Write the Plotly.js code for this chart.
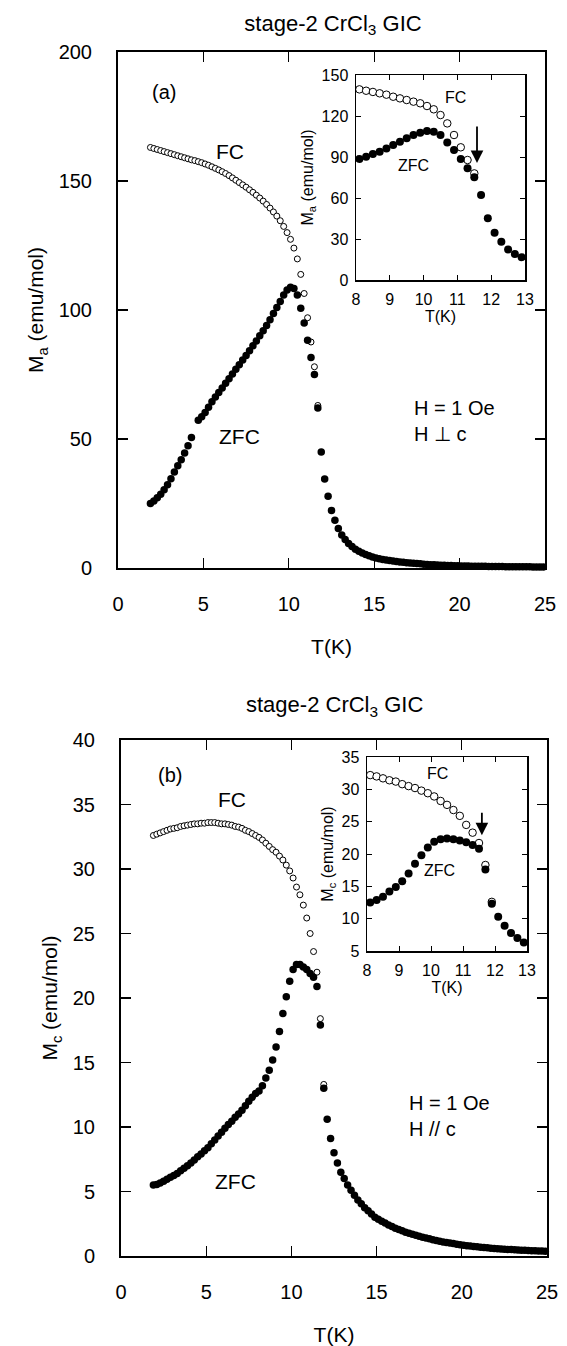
<!DOCTYPE html>
<html>
<head>
<meta charset="utf-8">
<script src="https://cdn.plot.ly/plotly-3.0.1.min.js"></script>
<style>html,body{margin:0;padding:0;background:#fff;}#chart{width:567px;height:1346px;}</style>
</head>
<body>
<div id="chart"></div>
<script>
// ---------- DATA ----------
// Temperature grid of the measurement (K)
const T_main = [1.9,2.1,2.3,2.5,2.7,2.9,3.1,3.3,3.5,3.7,3.9,4.1,4.3,4.5,4.7,4.9,5.1,5.3,5.5,5.7,5.9,
  6.1,6.3,6.5,6.7,6.9,7.1,7.3,7.5,7.7,7.9,8.1,8.3,8.5,8.7,8.9,9.1,9.3,9.5,9.7,9.9,
  10.1,10.3,10.5,10.7,10.9,11.1,11.3,11.5,11.7,11.9,12.1,12.3,12.5,12.7,12.9,
  13.1,13.3,13.5,13.7,13.9,14.1,14.3,14.5,14.7,14.9,15.1,15.3,15.5,15.7,15.9,
  16.1,16.3,16.5,16.7,16.9,17.1,17.3,17.5,17.7,17.9,18.1,18.3,18.5,18.7,18.9,
  19.1,19.3,19.5,19.7,19.9,20.1,20.3,20.5,20.7,20.9,21.1,21.3,21.5,21.7,21.9,
  22.1,22.3,22.5,22.7,22.9,23.1,23.3,23.5,23.7,23.9,24.1,24.3,24.5,24.7,24.9];

// (a) H perp c : ZFC (filled) and FC (open), emu/mol
const ZFC_a = [25.0,26.0,27.2,28.6,30.3,32.3,34.6,37.2,39.6,42.0,44.6,47.4,50.6,null,57.3,58.6,60.3,62.3,64.4,66.3,68.0,
  69.8,71.6,73.4,75.2,77.0,78.8,80.6,82.4,84.2,86.1,88.0,90.0,92.0,94.0,96.2,98.6,101.0,103.3,105.8,107.8,
  108.8,108.3,105.8,100.7,95.0,88.3,81.6,75.0,62.0,45.0,34.5,27.8,22.3,18.5,15.3,
  12.8,11.0,9.5,8.3,7.3,6.5,5.8,5.2,4.7,4.3,3.9,3.6,3.3,3.1,2.9,
  2.7,2.5,2.3,2.2,2.0,1.9,1.8,1.7,1.6,1.5,1.4,1.3,1.25,1.2,1.1,
  1.05,1.0,0.95,0.9,0.85,0.8,0.78,0.75,0.72,0.7,0.68,0.66,0.64,0.62,0.6,
  0.58,0.56,0.55,0.53,0.52,0.5,0.49,0.48,0.46,0.45,0.44,0.43,0.42,0.41,0.4];
const FC_a = [163.0,162.6,162.2,161.8,161.4,161.0,160.6,160.2,159.8,159.4,159.0,158.6,158.2,157.9,157.5,157.1,
  156.6,156.1,155.5,154.9,154.3,153.6,152.9,152.1,151.2,150.3,149.4,148.5,147.6,146.6,145.6,
  144.5,143.4,142.2,140.9,139.5,138.0,136.4,134.6,132.4,130.0,127.4,124.0,119.8,113.8,106.4,
  97.0,87.6,78.0,63.0];

// (b) H // c
const ZFC_b = [5.5,5.55,5.65,5.8,5.95,6.1,6.25,6.4,6.6,6.8,7.0,7.2,7.45,7.7,7.9,8.15,8.4,8.7,9.0,9.3,9.6,
  9.9,10.2,10.45,10.75,11.0,11.3,11.65,12.0,12.3,12.6,12.8,13.2,13.8,14.4,15.2,16.2,17.4,18.8,20.1,21.3,
  22.2,22.6,22.6,22.4,22.2,21.9,21.6,20.9,17.9,13.0,10.6,9.1,8.0,7.2,6.5,
  6.0,5.5,5.1,4.7,4.35,4.05,3.75,3.5,3.25,3.0,2.85,2.7,2.55,2.4,2.28,
  2.16,2.05,1.95,1.85,1.76,1.68,1.6,1.53,1.46,1.4,1.33,1.26,1.2,1.14,1.09,
  1.04,1.0,0.96,0.92,0.88,0.84,0.8,0.77,0.74,0.71,0.68,0.66,0.63,0.61,0.59,
  0.57,0.55,0.53,0.51,0.5,0.48,0.47,0.45,0.44,0.43,0.41,0.4,0.39,0.38,0.37];
const FC_b = [32.6,32.7,32.8,32.9,33.0,33.1,33.15,33.2,33.3,33.35,33.4,33.45,33.5,33.5,33.55,33.55,
  33.6,33.6,33.6,33.55,33.5,33.5,33.45,33.4,33.3,33.25,33.15,33.0,32.9,32.75,32.6,
  32.45,32.25,32.0,31.75,31.5,31.3,31.0,30.7,30.3,29.85,29.3,28.6,28.0,27.2,26.2,
  25.0,23.6,22.0,18.4,13.3];

// Insets (8-13 K)
const T_inset = [8.1,8.3,8.5,8.7,8.9,9.1,9.3,9.5,9.7,9.9,10.1,10.3,10.5,10.7,10.9,11.1,11.3,11.5,11.7,11.9,12.1,12.3,12.5,12.7,12.9];
const ZFC_ina = [88.5,90.2,92.2,93.9,96.3,98.8,101.2,103.7,106.1,107.8,109.0,108.5,106.1,100.7,95.1,88.5,81.7,75.1,62.2,45.1,34.6,28.0,22.4,19.0,16.6];
const FC_ina  = [139.5,138.5,137.6,136.6,135.6,134.1,132.9,131.7,130.5,129.3,127.3,124.9,120.7,114.6,106.1,97.1,87.8,78.0];
const ZFC_inb = [12.5,12.9,13.4,14.2,14.9,15.8,17.0,18.5,19.8,21.0,21.9,22.3,22.4,22.3,22.1,21.8,21.4,20.8,17.6,12.3,10.3,8.9,7.8,7.0,6.3];
const FC_inb  = [32.2,32.0,31.7,31.4,31.2,30.8,30.5,30.2,29.8,29.4,28.9,28.2,27.6,26.8,25.9,24.5,23.3,21.7,18.3,12.6];

// Tick values
const xTicksMain = [0,5,10,15,20,25];
const yTicksA = [0,50,100,150,200];
const yTicksB = [0,5,10,15,20,25,30,35,40];
const xTicksInset = [8,9,10,11,12,13];
const yTicksInA = [0,30,60,90,120,150];
const yTicksInB = [5,10,15,20,25,30,35];

// ---------- STYLE ----------
const FONT = 'Liberation Sans, Arial, Helvetica, sans-serif';
const openM = s => ({symbol:'circle', size:s, color:'white', line:{color:'black', width:1}});
const fillM = s => ({symbol:'circle', size:s, color:'black', line:{width:0}});

const traces = [
  {x:T_main.slice(0, FC_a.length), y:FC_a, xaxis:'x', yaxis:'y', mode:'markers', marker:openM(6), cliponaxis:false, name:'FC'},
  {x:T_main, y:ZFC_a, xaxis:'x', yaxis:'y', mode:'markers', marker:fillM(7.5), cliponaxis:false, name:'ZFC'},
  {x:T_inset.slice(0, FC_ina.length), y:FC_ina, xaxis:'x2', yaxis:'y2', mode:'markers', marker:openM(7.5), name:'FC'},
  {x:T_inset, y:ZFC_ina, xaxis:'x2', yaxis:'y2', mode:'markers', marker:fillM(8), name:'ZFC'},
  {x:T_main.slice(0, FC_b.length), y:FC_b, xaxis:'x3', yaxis:'y3', mode:'markers', marker:openM(6), cliponaxis:false, name:'FC'},
  {x:T_main, y:ZFC_b, xaxis:'x3', yaxis:'y3', mode:'markers', marker:fillM(7.5), cliponaxis:false, name:'ZFC'},
  {x:T_inset.slice(0, FC_inb.length), y:FC_inb, xaxis:'x4', yaxis:'y4', mode:'markers', marker:openM(7.5), name:'FC'},
  {x:T_inset, y:ZFC_inb, xaxis:'x4', yaxis:'y4', mode:'markers', marker:fillM(8), name:'ZFC'}
];

const W = 567, H = 1346;
const px = v => v / W, py = v => 1 - v / H;

function mainAxis(extra) {
  return Object.assign({
    showline:true, linewidth:2, linecolor:'black', mirror:'ticks',
    ticks:'inside', ticklen:10, tickwidth:1.3, tickcolor:'black',
    showgrid:false, zeroline:false, tickfont:{family:FONT, size:20, color:'black'},
    tickmode:'array', fixedrange:true
  }, extra);
}
function insetAxis(extra) {
  return Object.assign({
    showline:true, linewidth:1.5, linecolor:'black', mirror:'ticks',
    ticks:'inside', ticklen:5, tickwidth:1, tickcolor:'black',
    showgrid:false, zeroline:false, tickfont:{family:FONT, size:16, color:'black'},
    tickmode:'array', fixedrange:true
  }, extra);
}

const layout = {
  width:W, height:H, margin:{l:0, r:0, t:0, b:0},
  paper_bgcolor:'white', plot_bgcolor:'white', showlegend:false,
  font:{family:FONT, color:'black'},
  title:{text:'stage-2 CrCl<sub>3</sub> GIC', x:px(333), xanchor:'center', y:py(23), yanchor:'middle', font:{family:FONT, size:22, color:'black'}},
  xaxis: mainAxis({domain:[px(118), px(545)], range:[0,25], tickvals:xTicksMain, anchor:'y', ticklabelstandoff:17,
    title:{text:'T(K)', font:{family:FONT, size:21}, standoff:25}}),
  yaxis: mainAxis({domain:[py(568), py(52)], range:[0,200], tickvals:yTicksA, anchor:'x', ticklabelstandoff:20,
    title:{text:'M<sub>a</sub> (emu/mol)', font:{family:FONT, size:21}, standoff:9}}),
  xaxis2: insetAxis({domain:[px(356), px(525)], range:[8,13], tickvals:xTicksInset, anchor:'y2', ticklabelstandoff:4,
    title:{text:'T(K)', font:{family:FONT, size:16}, standoff:3}}),
  yaxis2: insetAxis({domain:[py(280), py(75)], range:[0,150], tickvals:yTicksInA, anchor:'x2', ticklabelstandoff:3,
    title:{text:'M<sub>a</sub> (emu/mol)', font:{family:FONT, size:16}, standoff:4}}),
  xaxis3: mainAxis({domain:[px(121), px(547)], range:[0,25], tickvals:xTicksMain, anchor:'y3', ticklabelstandoff:17,
    title:{text:'T(K)', font:{family:FONT, size:21}, standoff:25}}),
  yaxis3: mainAxis({domain:[py(1256), py(740)], range:[0,40], tickvals:yTicksB, anchor:'x3', ticklabelstandoff:20,
    title:{text:'M<sub>c</sub> (emu/mol)', font:{family:FONT, size:21}, standoff:9}}),
  xaxis4: insetAxis({domain:[px(367), px(527)], range:[8,13], tickvals:xTicksInset, anchor:'y4', ticklabelstandoff:4,
    title:{text:'T(K)', font:{family:FONT, size:16}, standoff:3}}),
  yaxis4: insetAxis({domain:[py(951), py(757)], range:[5,35], tickvals:yTicksInB, anchor:'x4', ticklabelstandoff:3,
    title:{text:'M<sub>c</sub> (emu/mol)', font:{family:FONT, size:16}, standoff:4}}),
  annotations: [
    {xref:'paper', yref:'paper', x:px(334), y:py(706), text:'stage-2 CrCl<sub>3</sub> GIC', showarrow:false, xanchor:'center', yanchor:'middle', font:{family:FONT, size:22}},
    // panel (a)
    {xref:'x', yref:'y', x:2.7, y:184.5, text:'(a)', showarrow:false, font:{family:FONT, size:20}},
    {xref:'x', yref:'y', x:6.56, y:161.5, text:'FC', showarrow:false, font:{family:FONT, size:21}},
    {xref:'x', yref:'y', x:7.14, y:50.9, text:'ZFC', showarrow:false, font:{family:FONT, size:21}},
    {xref:'x', yref:'y', x:17.2, y:56.9, text:'H = 1 Oe<br>H \u22A5 c', showarrow:false, xanchor:'left', yanchor:'middle', align:'left', font:{family:FONT, size:20}},
    {xref:'x2', yref:'y2', x:10.93, y:133.2, text:'FC', showarrow:false, font:{family:FONT, size:16}},
    {xref:'x2', yref:'y2', x:9.69, y:84.1, text:'ZFC', showarrow:false, font:{family:FONT, size:16}},
    {xref:'x2', yref:'y2', x:11.58, y:85.6, axref:'x2', ayref:'y2', ax:11.58, ay:113.4, text:'', showarrow:true,
      arrowhead:2, arrowsize:1.4, arrowwidth:1.8, arrowcolor:'black', standoff:0, startstandoff:0},
    // panel (b)
    {xref:'x3', yref:'y3', x:2.88, y:37.3, text:'(b)', showarrow:false, font:{family:FONT, size:20}},
    {xref:'x3', yref:'y3', x:6.51, y:35.35, text:'FC', showarrow:false, font:{family:FONT, size:21}},
    {xref:'x3', yref:'y3', x:6.69, y:5.74, text:'ZFC', showarrow:false, font:{family:FONT, size:21}},
    {xref:'x3', yref:'y3', x:16.78, y:10.85, text:'H = 1 Oe<br>H // c', showarrow:false, xanchor:'left', yanchor:'middle', align:'left', font:{family:FONT, size:20}},
    {xref:'x4', yref:'y4', x:10.19, y:32.5, text:'FC', showarrow:false, font:{family:FONT, size:16}},
    {xref:'x4', yref:'y4', x:10.28, y:17.5, text:'ZFC', showarrow:false, font:{family:FONT, size:16}},
    {xref:'x4', yref:'y4', x:11.59, y:22.9, axref:'x4', ayref:'y4', ax:11.59, ay:26.6, text:'', showarrow:true,
      arrowhead:2, arrowsize:1.4, arrowwidth:1.8, arrowcolor:'black', standoff:0, startstandoff:0}
  ]
};

Plotly.newPlot('chart', traces, layout, {staticPlot:true, displayModeBar:false});
</script>
</body>
</html>
